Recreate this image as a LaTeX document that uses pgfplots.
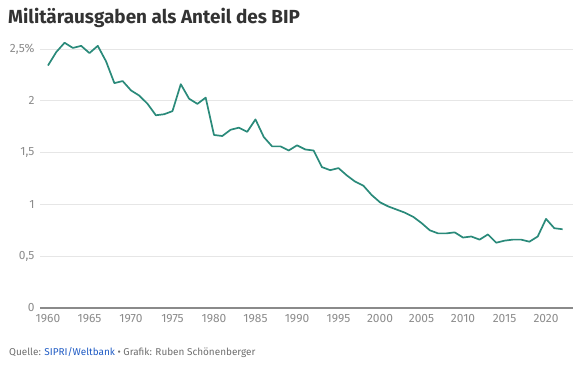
\documentclass[border=0pt]{standalone}
\usepackage{pgfplots}
\pgfplotsset{compat=1.18}
\usepackage{fontspec}
\setmainfont{Fira Sans}
\definecolor{linec}{HTML}{2A8A7A}
\definecolor{gridc}{HTML}{E6E6E6}
\definecolor{tickc}{HTML}{8C8C8C}
\definecolor{axisc}{HTML}{8A8A8A}
\definecolor{titlec}{HTML}{333333}
\definecolor{srcc}{HTML}{6E6E6E}
\definecolor{linkc}{HTML}{1F5BC4}
\pgfplotstableread{
year val
1960 2.34
1961 2.47
1962 2.56
1963 2.51
1964 2.53
1965 2.46
1966 2.53
1967 2.38
1968 2.17
1969 2.19
1970 2.10
1971 2.05
1972 1.97
1973 1.86
1974 1.87
1975 1.90
1976 2.16
1977 2.02
1978 1.97
1979 2.03
1980 1.67
1981 1.66
1982 1.72
1983 1.74
1984 1.70
1985 1.82
1986 1.65
1987 1.56
1988 1.56
1989 1.52
1990 1.57
1991 1.53
1992 1.52
1993 1.36
1994 1.33
1995 1.35
1996 1.28
1997 1.22
1998 1.18
1999 1.09
2000 1.02
2001 0.98
2002 0.95
2003 0.92
2004 0.88
2005 0.82
2006 0.75
2007 0.72
2008 0.72
2009 0.73
2010 0.68
2011 0.69
2012 0.66
2013 0.71
2014 0.63
2015 0.65
2016 0.66
2017 0.66
2018 0.64
2019 0.69
2020 0.86
2021 0.77
2022 0.76
}\milex
\begin{document}
\begin{tikzpicture}[x=1bp,y=1bp]
\begin{axis}[
  at={(40bp,57bp)}, anchor=south west,
  scale only axis, width=533bp, height=269.4bp,
  xmin=1959.04, xmax=2023.25, ymin=0, ymax=2.6,
  axis x line=bottom, axis y line=left,
  x axis line style={-, draw=axisc, line width=1.3bp},
  y axis line style={draw=none},
  major tick length=0pt,
  xtick={1960,1965,...,2020},
  xticklabels={1960,1965,1970,1975,1980,1985,1990,1995,2000,2005,2010,2015,2020},
  ytick={0,0.5,1,1.5,2,2.5},
  yticklabels={0,{0,5},1,{1,5},2,{2,5\%}},
  ymajorgrids, grid style={draw=gridc, line width=0.9bp},
  tick label style={font=\fontsize{12}{14}\selectfont, text=tickc},
  xticklabel style={yshift=-3bp},
  yticklabel style={anchor=east, xshift=-2bp},
  clip=false,
]
\addplot[draw=linec, line width=1.7bp, line join=round] table[x=year, y=val] {\milex};
\end{axis}
\node[anchor=base west, inner sep=0, text=titlec, font=\fontsize{19}{21}\selectfont\bfseries] at (8bp,341bp) {Militärausgaben als Anteil des BIP};
\node[anchor=base west, inner sep=0, text=srcc, font=\fontsize{10}{12}\selectfont] at (9bp,10bp) {Quelle: \textcolor{linkc}{SIPRI/Weltbank} • Grafik: Ruben Schönenberger};
\pgfresetboundingbox
\path (0,0) rectangle (582bp,365bp);
\end{tikzpicture}
\end{document}
